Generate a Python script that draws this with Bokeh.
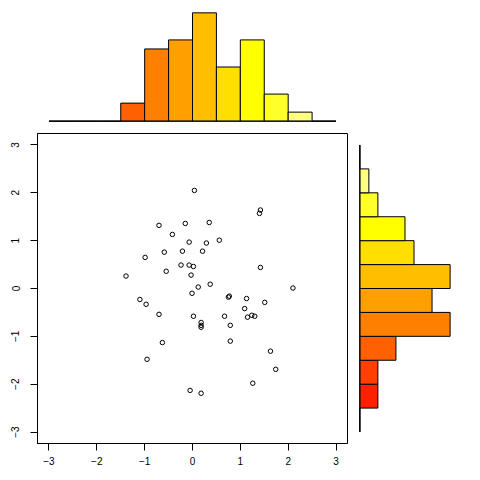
from bokeh.plotting import figure
from bokeh.layouts import column, row
from bokeh.models import Range1d, FixedTicker, Spacer
from bokeh.embed import file_html
from bokeh.resources import INLINE

# scatter data
x_vals = [0.04, 1.42, 1.40, -0.70, -0.15, 0.35, -0.42, -0.07, 0.29, 0.56,
          -0.59, -0.21, 0.21, -0.99, -0.24, -0.07, 0.02, 1.42, -0.55, -0.03,
          -1.39, 0.37, 0.12, 2.10, -0.01, 0.75, 0.77, 1.13, -1.10, -0.97,
          1.51, 1.09, -0.70, 0.02, 0.67, 1.15, 1.24, 1.30, 0.18, 0.18,
          0.18, 0.79, -0.63, 0.79, 1.63, -0.95, 1.74, 1.26, -0.05, 0.18]
y_vals = [2.05, 1.64, 1.57, 1.32, 1.36, 1.38, 1.13, 0.97, 0.95, 1.01,
          0.76, 0.78, 0.78, 0.65, 0.49, 0.49, 0.46, 0.44, 0.36, 0.28,
          0.26, 0.09, 0.03, 0.01, -0.10, -0.18, -0.16, -0.21, -0.23, -0.33,
          -0.29, -0.42, -0.54, -0.58, -0.58, -0.60, -0.56, -0.58, -0.71, -0.77,
          -0.81, -0.77, -1.13, -1.10, -1.31, -1.48, -1.69, -1.98, -2.13, -2.19]

# histogram bins and counts
bin_left = [-3.0, -2.5, -2.0, -1.5, -1.0, -0.5, 0.0, 0.5, 1.0, 1.5, 2.0, 2.5]
bin_right = [-2.5, -2.0, -1.5, -1.0, -0.5, 0.0, 0.5, 1.0, 1.5, 2.0, 2.5, 3.0]
x_counts = [0, 0, 0, 2, 8, 9, 12, 6, 9, 3, 1, 0]
y_counts = [0, 2, 2, 4, 10, 8, 10, 6, 5, 2, 1, 0]
heat_colors = ["#FF0000", "#FF2000", "#FF4000", "#FF6000", "#FF8000", "#FF9F00",
               "#FFBF00", "#FFDF00", "#FFFF00", "#FFFF2A", "#FFFF80", "#FFFFD5"]
zeros = [0] * 12

FONT = "Liberation Sans"

xr = Range1d(-3.24, 3.24)
yr = Range1d(-3.24, 3.24)

# main scatter
p = figure(width=355, height=339, x_range=xr, y_range=yr, output_backend="svg",
           toolbar_location=None, min_border_left=37, min_border_right=8,
           min_border_top=0, min_border_bottom=29)
p.scatter(x_vals, y_vals, size=4.5, fill_color=None, line_color="black", line_width=1)
p.xgrid.visible = False
p.ygrid.visible = False
p.outline_line_color = "black"
p.outline_line_alpha = 1
p.outline_line_width = 1
for ax in (p.xaxis[0], p.yaxis[0]):
    ax.ticker = FixedTicker(ticks=[-3, -2, -1, 0, 1, 2, 3])
    ax.minor_tick_line_color = None
    ax.major_tick_in = 0
    ax.major_tick_out = 7
    ax.major_tick_line_color = "black"
    ax.axis_line_color = "black"
    ax.major_label_text_font = FONT
    ax.major_label_text_font_size = "10px"
    ax.major_label_text_color = "black"
p.xaxis[0].major_label_standoff = 6
p.yaxis[0].major_label_standoff = 11
p.yaxis[0].major_label_orientation = "vertical"

# top histogram
top = figure(width=355, height=133, x_range=xr, y_range=Range1d(-0.48, 12.48),
             output_backend="svg", toolbar_location=None, min_border_left=37,
             min_border_right=8, min_border_top=8, min_border_bottom=8)
top.quad(left=bin_left, right=bin_right, bottom=zeros, top=x_counts,
         fill_color=heat_colors, line_color="black", line_width=1)
top.segment(x0=[bin_left[0]], y0=[0], x1=[bin_right[-1]], y1=[0], line_color="black", line_width=1)
top.axis.visible = False
top.grid.visible = False
top.outline_line_color = None

# right histogram
rt = figure(width=117, height=339, x_range=Range1d(-0.48, 12.48), y_range=yr,
            output_backend="svg", toolbar_location=None, min_border_left=0,
            min_border_right=0, min_border_top=0, min_border_bottom=29)
rt.quad(left=zeros, right=y_counts, bottom=bin_left, top=bin_right,
        fill_color=heat_colors, line_color="black", line_width=1)
rt.segment(x0=[0], y0=[bin_left[0]], x1=[0], y1=[bin_right[-1]], line_color="black", line_width=1)
rt.axis.visible = False
rt.grid.visible = False
rt.outline_line_color = None

layout = column(row(top, Spacer(width=117, height=133)), row(p, rt))
open("out.html", "w").write(file_html(layout, INLINE))
